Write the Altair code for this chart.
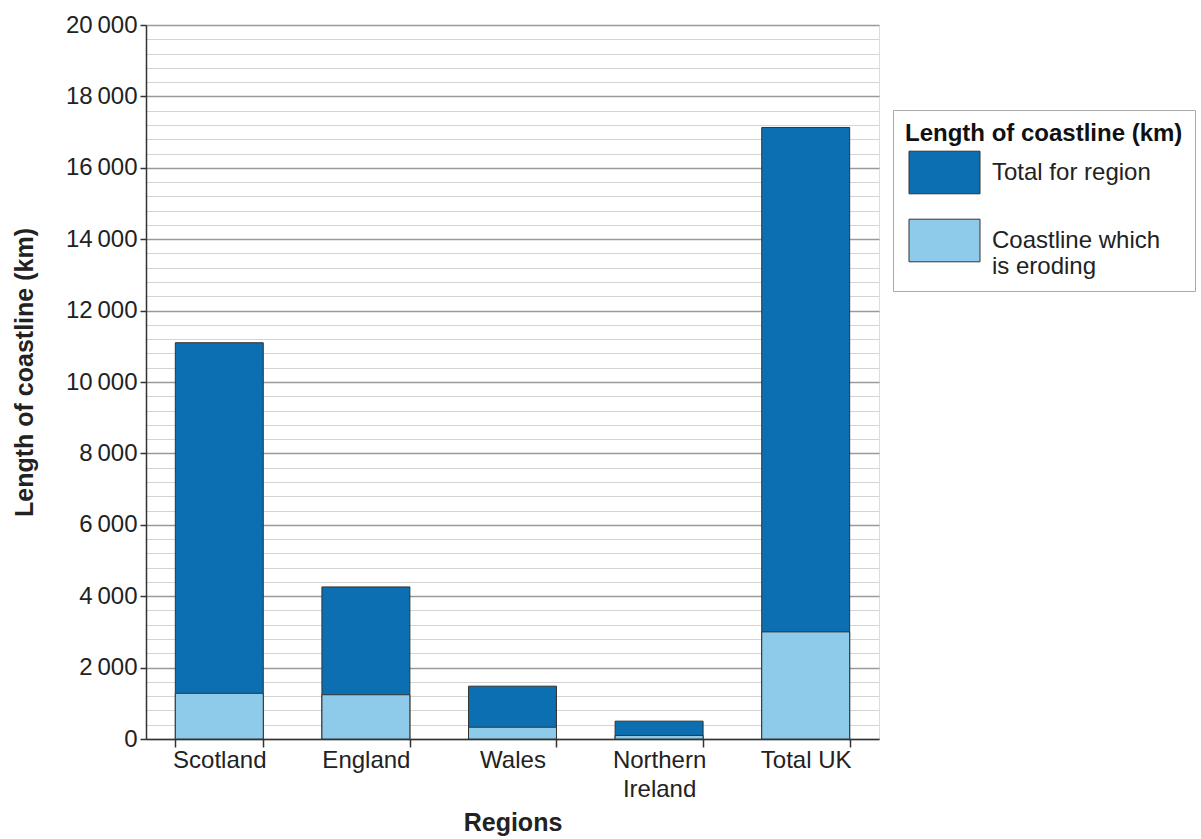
import altair as alt
import pandas as pd

regions = ["Scotland", "England", "Wales", "Northern Ireland", "Total UK"]
total_km = [11100, 4260, 1480, 500, 17130]
eroding_km = [1280, 1240, 330, 100, 3000]
series_names = ["Total for region", "Coastline which is eroding"]
colors = ["#0b6fb1", "#8ecbea"]
grid_values = list(range(0, 20001, 400))

df = pd.DataFrame({
    "region": regions,
    "Total for region": total_km,
    "Coastline which is eroding": eroding_km,
})

FONT = "Liberation Sans"

chart = (
    alt.Chart(df)
    .transform_fold(series_names, as_=["series", "km"])
    .transform_calculate(order="datum.series == 'Total for region' ? 0 : 1")
    .mark_bar(stroke="#333333", strokeWidth=1)
    .encode(
        x=alt.X(
            "region:N",
            sort=regions,
            scale=alt.Scale(paddingInner=0.4, paddingOuter=0.2),
            axis=alt.Axis(
                title="Regions",
                labelAngle=0,
                labelFontSize=24,
                labelFont=FONT,
                labelColor="#222222",
                labelPadding=1,
                labelExpr="datum.label == 'Northern Ireland' ? ['Northern', 'Ireland'] : datum.label",
                labelLineHeight=29,
                tickBand="extent",
                tickSize=8,
                tickColor="#333333",
                tickWidth=1.5,
                domainColor="#333333",
                domainWidth=1.5,
                titleFontSize=25,
                titleFont=FONT,
                titleFontWeight="bold",
                titleColor="#222222",
                titlePadding=9,
                grid=False,
            ),
        ),
        y=alt.Y(
            "km:Q",
            stack=None,
            scale=alt.Scale(domain=[0, 20000], nice=False),
            axis=alt.Axis(
                title="Length of coastline (km)",
                values=grid_values,
                labelExpr="datum.value % 2000 === 0 ? replace(format(datum.value, ','), ',', '\u2009') : ''",
                labelFontSize=24,
                labelFont=FONT,
                labelColor="#222222",
                labelPadding=3,
                tickSize=6,
                tickColor="#333333",
                tickWidth=1.5,
                tickOpacity={"condition": {"test": "datum.value % 2000 === 0", "value": 1}, "value": 0},
                domainColor="#333333",
                domainWidth=1.5,
                grid=True,
                gridColor={"condition": {"test": "datum.value % 2000 === 0", "value": "#9a9a9a"}, "value": "#d4d4d4"},
                gridWidth={"condition": {"test": "datum.value % 2000 === 0", "value": 1.5}, "value": 1},
                titleFontSize=25,
                titleFont=FONT,
                titleFontWeight="bold",
                titleColor="#222222",
                titlePadding=28,
                titleY=347,
            ),
        ),
        color=alt.Color(
            "series:N",
            scale=alt.Scale(domain=series_names, range=colors),
            legend=alt.Legend(
                title="Length of coastline (km)",
                orient="none",
                legendX=747,
                legendY=85,
                padding=12,
                strokeColor="#aaaaaa",
                fillColor="white",
                titleFontSize=24,
                titleFont=FONT,
                titleFontWeight="bold",
                titleColor="#111111",
                titleLimit=400,
                titlePadding=8,
                labelFontSize=24,
                labelFont=FONT,
                labelColor="#222222",
                labelLimit=400,
                labelOffset=29,
                labelExpr="datum.label == 'Coastline which is eroding' ? ['Coastline which', 'is eroding'] : datum.label",
                symbolType="M-2,-1.2H2V1.2H-2Z",
                symbolSize=1260,
                symbolOffset=21,
                symbolStrokeColor="#333333",
                symbolStrokeWidth=1,
                symbolOpacity=1,
                rowPadding=21,
            ),
        ),
        order=alt.Order("order:Q"),
    )
    .properties(
        width=733,
        height=714,
        padding={"left": 146, "top": 25, "right": 322, "bottom": 100},
        autosize=alt.AutoSizeParams(type="none"),
    )
    .configure_view(stroke=None)
    .configure(background="white")
)

chart.save("out.html", embed_options={"renderer": "svg", "actions": False})
